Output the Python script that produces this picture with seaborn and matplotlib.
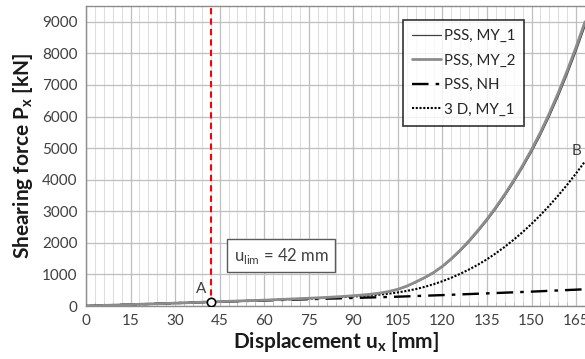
import numpy as np
import pandas as pd
import matplotlib
matplotlib.use("Agg")
import matplotlib.pyplot as plt
import seaborn as sns
from matplotlib.ticker import MultipleLocator

# ---- data ----
x_my = [0, 15, 30, 42, 60, 75, 78, 81, 84, 87, 90, 93, 96, 99, 102, 105, 108, 111, 114, 117,
        120, 123, 126, 129, 132, 135, 138, 141, 144, 147, 150, 153, 156, 159, 162, 165, 168]
y_my2 = [0, 45, 90, 130, 185, 245, 258, 272, 288, 305, 325, 348, 375, 410, 460, 530, 630, 760, 900, 1060,
         1260, 1500, 1770, 2070, 2400, 2750, 3130, 3540, 3980, 4450, 4950, 5500, 6100, 6750, 7450, 8200, 9000]
y_my1 = [0, 45, 90, 130, 185, 244, 256, 270, 285, 301, 320, 342, 368, 402, 451, 519, 617, 744, 882, 1038,
         1234, 1470, 1735, 2030, 2355, 2700, 3075, 3480, 3915, 4380, 4870, 5410, 6000, 6640, 7330, 8070, 8860]
y_3d = [0, 45, 90, 130, 180, 235, 247, 259, 272, 286, 300, 318, 338, 362, 392, 430, 478, 535, 605, 690,
        785, 895, 1020, 1160, 1310, 1480, 1670, 1875, 2100, 2340, 2600, 2880, 3180, 3500, 3840, 4200, 4580]
x_nh = [0, 15, 30, 42, 60, 75, 90, 105, 120, 135, 150, 168]
y_nh = [0, 45, 90, 130, 175, 215, 255, 295, 345, 400, 455, 530]
series_names = ["PSS, MY_1", "PSS, MY_2", "PSS, NH", "3 D, MY_1"]
u_lim = 42
point_A = (42, 130)
x_ticks = [0, 15, 30, 45, 60, 75, 90, 105, 120, 135, 150, 165]
y_ticks = list(range(0, 10000, 1000))

sns.set_style("white")
plt.rcParams["font.family"] = ["Lato", "DejaVu Sans"]

fig = plt.figure(figsize=(5.85, 3.59), dpi=100)
ax = fig.add_axes([86/585, 1-306/359, 1-86/585, 300/359])

grid_major = "#bfbfbf"
grid_minor = "#dedede"
ax.xaxis.set_major_locator(MultipleLocator(15))
ax.xaxis.set_minor_locator(MultipleLocator(3))
ax.yaxis.set_major_locator(MultipleLocator(1000))
ax.grid(True, which="major", axis="both", color=grid_major, lw=0.9)
ax.grid(True, which="minor", axis="x", color=grid_minor, lw=0.8)
ax.set_axisbelow(True)

sns.lineplot(x=x_my, y=y_my1, ax=ax, color="#404040", lw=0.9, label=series_names[0], zorder=3)
sns.lineplot(x=x_my, y=y_my2, ax=ax, color="#8c8c8c", lw=2.0, label=series_names[1], zorder=4)
sns.lineplot(x=x_nh, y=y_nh, ax=ax, color="black", lw=1.7, label=series_names[2], zorder=3)
ax.lines[-1].set_dashes((7, 3, 1.5, 3))
sns.lineplot(x=x_my, y=y_3d, ax=ax, color="black", lw=1.5, label=series_names[3], zorder=3)
ax.lines[-1].set_linestyle((0, (1, 0.8)))

ax.axvline(u_lim, color="#ff0000", lw=1.5, dashes=(3, 2), zorder=5)
sns.scatterplot(x=[point_A[0]], y=[point_A[1]], ax=ax, s=36, color="white",
                edgecolor="black", linewidth=1.2, zorder=6, legend=False)

ax.text(40.5, 330, "A", fontsize=11, color="#404040", ha="right", va="bottom")
ax.text(165, 4700, "B", fontsize=11, color="#404040", ha="center", va="bottom")
ax.text(65.7, 1590, r"u$_{\mathregular{lim}}$ = 42 mm", fontsize=12, color="#404040",
        ha="center", va="center",
        bbox=dict(boxstyle="square,pad=0.4", fc="white", ec="#595959", lw=1))

ax.set_xlim(0, 168)
ax.set_ylim(0, 9500)
ax.set_xticks(x_ticks)
ax.set_yticks(y_ticks)
ax.tick_params(axis="both", which="major", labelsize=11, labelcolor="#404040", length=0, pad=6)
ax.tick_params(axis="x", which="minor", direction="in", length=3, color="#bfbfbf", bottom=True)
for s in ["left", "top", "bottom"]:
    ax.spines[s].set_color("#8c8c8c")
    ax.spines[s].set_linewidth(1)
ax.spines["right"].set_visible(False)

ax.set_xlabel(r"Displacement u$_{\mathregular{x}}$ [mm]", fontsize=15, fontweight="bold", labelpad=1,
              color="#1a1a1a")
ax.set_ylabel(r"Shearing force P$_{\mathregular{x}}$ [kN]", fontsize=15, fontweight="bold", labelpad=5,
              color="#1a1a1a")

leg = ax.legend(loc="upper left", bbox_to_anchor=((403-86)/499, 1-(20-6)/300), borderaxespad=0,
                fancybox=False, frameon=True, fontsize=10.8, handlelength=1.9, handletextpad=0.2,
                labelspacing=0.7, borderpad=0.6)
leg.get_frame().set_edgecolor("black")
leg.get_frame().set_linewidth(1.2)
for t in leg.get_texts():
    t.set_color("#262626")

fig.savefig("out.png", dpi=100)
